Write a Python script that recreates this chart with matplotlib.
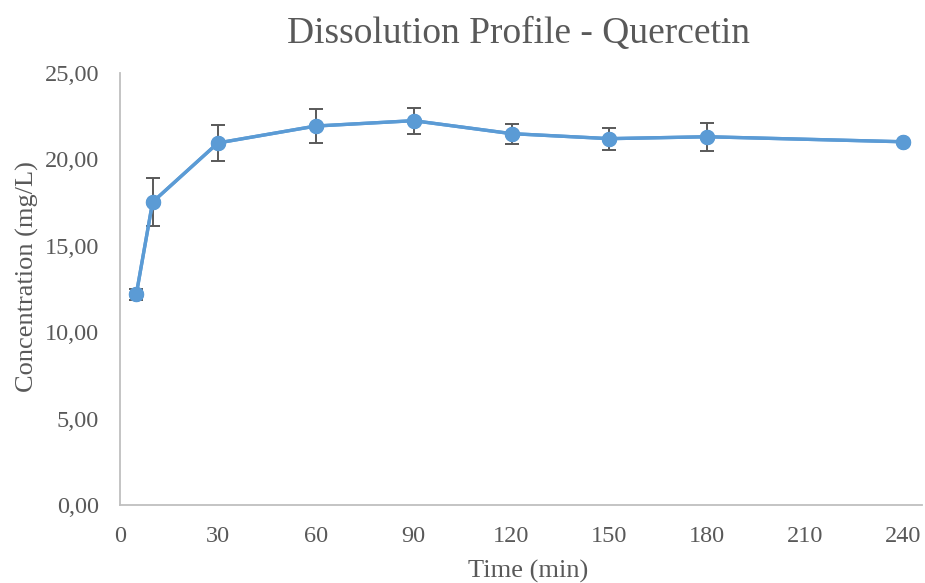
import numpy as np
import matplotlib
matplotlib.use("Agg")
import matplotlib.pyplot as plt
from matplotlib.ticker import FuncFormatter

# Data
time_min = [5, 10, 30, 60, 90, 120, 150, 180, 240]
conc = [12.19, 17.53, 20.95, 21.93, 22.24, 21.49, 21.20, 21.31, 21.02]
conc_err = [0.30, 1.40, 1.02, 0.99, 0.75, 0.58, 0.63, 0.81, 0.0]

x_ticks = [0, 30, 60, 90, 120, 150, 180, 210, 240]
y_ticks = [0, 5, 10, 15, 20, 25]

text_col = "#595959"
plt.rcParams['font.family'] = ['Liberation Serif', 'DejaVu Serif']

fig = plt.figure(figsize=(9.25, 5.83), dpi=100)
ax = fig.add_axes([0.1297, 0.1338, 0.8671, 0.7410])

ax.errorbar(time_min, conc, yerr=conc_err, color="#5B9BD5", lw=2.4,
            marker="o", ms=10, ecolor="#595959", elinewidth=1.4,
            capsize=5, capthick=1.4, zorder=3)
# redraw line/markers above error bars
ax.plot(time_min, conc, color="#5B9BD5", lw=2.4, marker="o", ms=10, zorder=4)

ax.set_xlim(0, 245.8)
ax.set_ylim(0, 25)
ax.set_xticks(x_ticks)
ax.set_yticks(y_ticks)
ax.yaxis.set_major_formatter(FuncFormatter(lambda v, p: f"{v:.2f}".replace(".", ",")))
ax.tick_params(length=0, labelsize=17.5, colors=text_col, pad=15)
ax.tick_params(axis='y', pad=15)

for s in ["top", "right"]:
    ax.spines[s].set_visible(False)
for s in ["left", "bottom"]:
    ax.spines[s].set_color("#BFBFBF")
    ax.spines[s].set_linewidth(1.3)

# axis titles and chart title
fig.text(0.571, 0.020, "Time (min)", fontsize=19, color=text_col,
         ha="center", va="center")
fig.text(0.030, 0.526, "Concentration (mg/L)", fontsize=19, color=text_col,
         ha="center", va="center", rotation=90)
fig.text(0.561, 0.942, "Dissolution Profile - Quercetin", fontsize=27,
         color=text_col, ha="center", va="center")

fig.savefig("out.png", dpi=100)
